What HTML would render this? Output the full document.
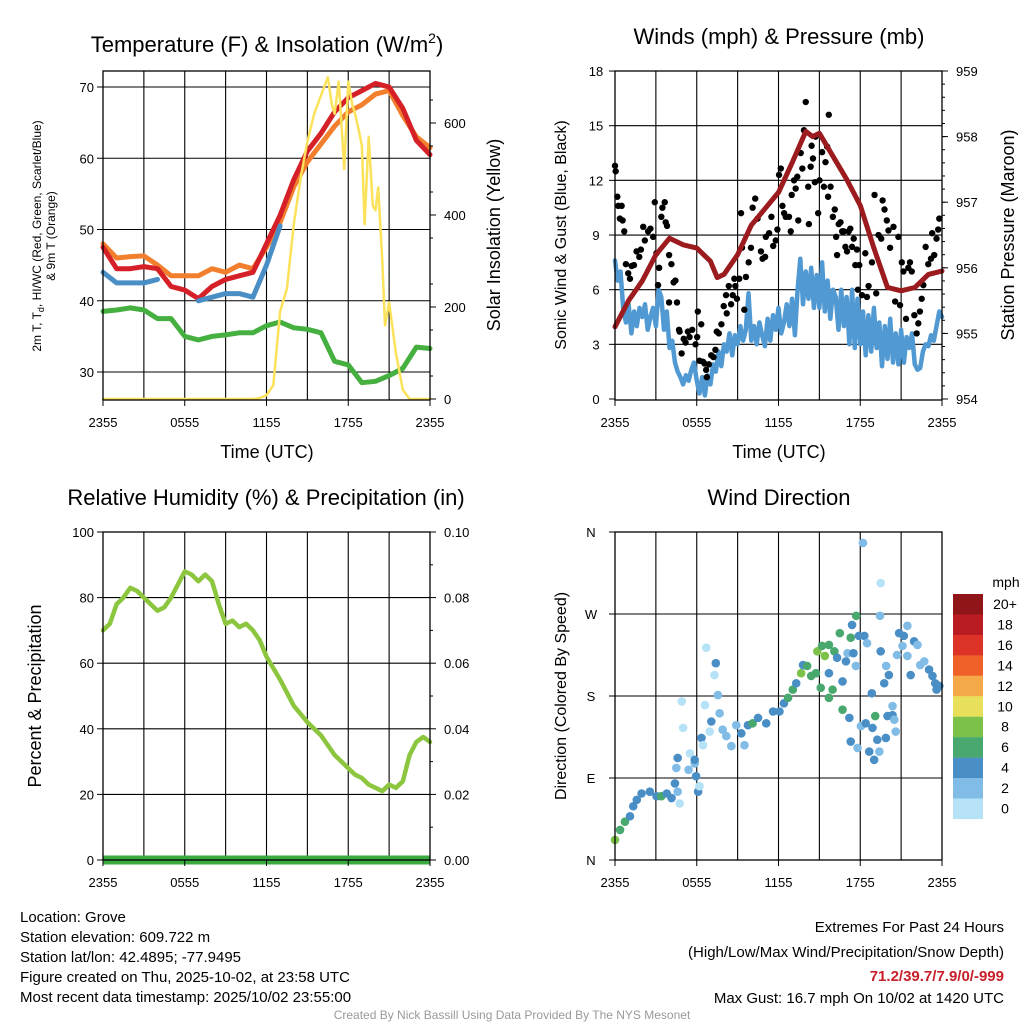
<!DOCTYPE html>
<html><head><meta charset="utf-8"><style>
body{margin:0;background:#fff;width:1024px;height:1024px;overflow:hidden}
svg{font-family:"Liberation Sans",sans-serif}
</style></head><body>
<svg id="s" width="1024" height="1024" viewBox="0 0 1024 1024" xmlns="http://www.w3.org/2000/svg">
<g id="bg"></g>
</svg>
<script>
const hrs = [0,1,2,3,4,5,6,7,8,9,10,11,12,13,14,15,16,17,18,19,20,21,22,23,24];
const tempRed = [47.5,44.5,44.5,44.8,44.5,42,41.5,40.3,42,43,43.5,44,48,52,57,61,63.5,66.5,68.5,69.5,70.5,70,67,62.5,60.5];
const tempOrange = [48,46,46.2,46.3,45,43.5,43.5,43.5,44.5,44,45,44.5,47.5,51,56,59.5,62,64.5,66.5,67.5,69,69.5,66,63,61.5];
const tempBlue = [44,42.5,42.5,42.5,43,null,null,40,40.5,41,41,40.5,45,50.5,null,null,null,null,null,null,null,null,null,null,null];
const dewGreen = [38.5,38.7,39,38.7,37.5,37.5,35,34.5,35,35.2,35.5,35.5,36.5,37,36.2,36,35.5,31.5,31,28.5,28.7,29.5,30.5,33.5,33.3];
const solarTimes = [0,11,11.5,12,12.5,13,13.5,14,14.5,15,15.5,16,16.5,16.8,17,17.3,17.5,17.7,18,18.3,18.5,18.8,19,19.2,19.5,19.8,20,20.2,20.5,20.7,21,21.5,22,22.5,24];
const solarVals = [0,0,2,8,30,190,240,380,480,560,620,660,700,640,620,690,600,500,690,640,620,580,550,380,570,420,410,460,300,160,210,100,20,0,0];
const pressTimes = [0,1,2,3,4,5,6,7,7.5,8,9,10,11,12,13,14,14.5,15,16,17,18,19,20,21,22,23,24];
const pressVals = [955.1,955.5,955.8,956.2,956.45,956.35,956.3,956.1,955.85,955.9,956.2,956.65,956.9,957.15,957.6,958.08,958.0,958.05,957.7,957.35,956.95,956.3,955.7,955.65,955.7,955.9,955.95];
const windVals = [7.6,6.5,7.0,5.0,4.2,5.2,3.6,4.8,4.0,5.0,4.5,5.2,3.8,4.5,5.0,4.0,6.0,5.6,3.8,4.8,2.8,3.2,2.0,1.5,1.2,0.8,1.3,1.0,1.6,2.0,1.0,0.3,1.2,0.2,1.3,0.8,1.9,1.5,2.6,1.8,3.0,2.6,3.6,2.4,3.5,3.0,4.0,3.2,3.8,5.8,3.2,4.0,3.0,4.2,3.5,2.9,4.4,3.2,4.6,3.8,5.0,3.6,4.2,5.2,4.0,5.5,3.5,6.0,7.7,5.2,7.0,5.5,7.2,5.0,6.8,5.0,7.5,4.8,6.5,4.4,6.0,5.6,3.8,6.0,4.0,5.6,3.0,6.0,2.8,5.5,3.0,4.8,2.4,4.6,2.6,5.0,2.8,4.2,1.8,4.0,2.2,4.4,2.0,3.6,1.9,3.8,2.0,3.4,2.8,3.6,1.9,1.6,1.7,2.6,3.0,2.9,3.5,3.2,4.0,4.8,4.5];
const gustTimes = [0,0.05,0.17,0.24,0.49,0.36,0.56,0.68,0.8,0.97,1.1,1.22,1.39,1.58,1.78,1.9,2.07,2.19,2.43,2.6,2.8,2.92,3.04,3.16,3.24,3.4,3.48,3.65,3.72,3.82,3.97,3.97,4.14,4.3,4.43,4.55,4.7,4.74,4.89,5.04,5.18,5.35,5.47,5.67,5.91,6.03,6.08,6.2,6.33,6.45,6.57,6.69,6.74,6.89,7.06,7.23,7.37,7.47,7.62,7.81,7.98,8.15,8.2,8.35,8.52,8.64,8.76,8.83,8.95,9.12,9.25,9.32,9.49,9.61,9.81,9.98,10.1,10.29,10.46,10.71,10.83,11.02,11.07,11.31,11.48,11.61,11.8,11.92,12.04,12.17,12.29,12.41,12.53,12.77,12.9,12.97,13.14,13.26,13.38,13.45,13.63,13.75,13.87,14.0,14.18,14.23,14.36,14.43,14.53,14.67,14.72,14.91,15.01,15.2,15.33,15.45,15.57,15.69,15.64,15.82,15.99,16.13,16.23,16.3,16.42,16.55,16.67,16.79,16.91,17.03,17.15,17.27,17.4,17.52,17.64,17.76,17.83,17.93,18.13,18.37,18.49,18.61,18.86,19.05,19.17,19.34,19.54,19.64,19.78,19.95,20.07,20.19,20.44,20.56,20.8,20.92,21.05,21.17,21.36,21.53,21.65,21.78,21.97,22.14,22.26,22.38,22.51,22.63,22.8,22.99,23.19,23.28,23.43,23.6,23.72,23.8];
const gustVals = [12.8,12.5,11.1,10.6,10.6,9.9,9.8,9.2,7.4,6.9,6.6,7.3,7.35,8.1,7.8,8.2,9.45,8.7,9.2,9.35,8.9,10.8,8.0,6.25,7.2,10.0,10.5,10.8,9.7,9.5,7.9,5.3,7.4,6.4,6.5,5.3,3.8,3.7,2.5,3.3,3.1,3.7,3.4,3.8,3.0,3.4,4.8,2.1,4.1,2.05,1.95,1.6,1.2,1.9,2.4,2.3,2.7,3.7,3.6,4.1,5.1,5.7,4.7,6.2,5.2,5.7,6.6,6.2,5.5,6.6,10.2,8.3,4.9,6.7,7.5,8.3,10.5,11.0,9.9,8.1,7.7,7.8,8.9,9.1,10.0,8.4,8.7,9.3,12.3,12.65,10.6,10.2,10.0,10.0,9.2,11.2,12.0,11.55,12.2,9.8,13.5,12.65,14.75,16.3,11.65,9.6,12.75,13.9,13.2,11.9,14.4,10.2,12.0,13.55,11.65,13.0,13.85,15.6,11.1,11.65,10.0,10.4,8.9,7.9,9.6,9.7,9.2,9.2,8.35,8.1,9.2,9.35,8.35,8.8,7.35,8.2,6.0,7.35,5.7,8.0,5.6,6.2,7.5,11.2,5.8,9.0,8.8,10.9,10.4,9.8,9.25,8.3,9.45,5.35,8.9,5.15,7.5,7.0,4.4,7.2,7.5,7.0,4.6,3.6,4.15,4.8,5.5,6.25,8.35,7.4,7.7,9.1,7.9,8.8,9.3,9.9];
const rhTimes = [0,0.5,1,1.5,2,2.5,3,3.5,4,4.5,5,5.5,6,6.5,7,7.5,8,8.5,9,9.5,10,10.5,11,11.5,12,13,14,15,16,17,18,18.5,19,19.5,20,20.5,21,21.5,22,22.5,23,23.5,24];
const rhVals = [70,72,78,80,83,82,80,78,76,77,80,84,88,87,85,87,85,78,72,73,71,72,70,67,62,55,47,42,38,32,28,26,25,23,22,21,23,22,24,32,36,37.5,36];
const precipVals = [0,0];
const dirTimes = [0,0.37,0.73,1.1,1.34,1.6,1.95,2.56,3.05,3.4,3.8,4.15,4.4,4.75,4.6,4.5,4.6,5,4.9,5.4,5.5,5.85,5.95,6.1,6.2,5.85,6.35,6.46,6.6,6.7,7.4,7.3,7.55,7.07,6.95,7.68,7.9,8.17,8.54,8.9,9.27,9.5,9.76,10.1,10.5,11.1,11.6,12.07,12.4,12.7,13.05,13.3,13.66,13.8,14.1,14.4,14.75,15.1,14.85,15.2,15.7,15.4,15.7,15.97,15.7,16.1,16.3,16.5,16.7,16.95,17.07,16.7,17.2,17.3,17.4,17.5,17.68,17.7,17.9,18.05,17.3,17.8,18.2,18.4,18.66,18.3,18.5,18.85,18.9,19.1,19.02,19.25,19.4,19.5,19.45,19.5,19.76,19.9,20,20.1,20.37,20.37,20.5,19.88,20.6,20.7,20.85,21.1,21.2,21.46,21.46,21.7,21.95,22.2,22.4,22.7,23.05,23.3,23.5,23.8,23.6];
const dirVals = [22,33,42,48,59,66,73,75,70,70,73,68,84,62,75,101,112,145,174,99,117,106,92,75,81,110,134,126,170,233,216,203,181,152,141,161,143,136,125,148,139,126,148,150,156,150,163,163,172,178,187,194,205,214,213,202,205,189,229,235,236,224,205,187,178,229,222,249,196,218,227,165,156,244,258,227,213,268,246,147,130,123,348,150,119,246,238,183,145,158,110,132,119,304,268,229,194,213,158,203,169,159,154,134,141,225,249,235,246,257,224,203,240,236,214,218,209,202,194,191,187];
const dirSpeed = [9,7,7,5,5,5,5,5,5,7,5,5,5,1,3,3,5,1,1,3,1,3,5,5,1,5,5,1,1,1,5,1,3,5,1,3,3,3,3,3,5,3,5,7,5,5,5,5,5,7,7,5,9,5,7,7,7,7,9,7,7,9,5,7,7,7,5,7,5,5,3,7,5,7,5,5,3,7,5,3,5,3,3,5,5,5,3,5,5,7,5,5,3,1,3,5,5,3,5,5,3,5,3,5,3,3,5,3,5,3,3,5,5,3,3,3,5,5,5,5,5];
const cbLabels = ["20+","18","16","14","12","10","8","6","4","2","0"];
const cbColors = ["#8f1519","#b81b22","#dc3228","#ef6129","#f5a847","#e8e05a","#7cc24a","#48a86e","#4a8ec6","#80bce6","#b5e2f7"];
const xTickHours = [0,6,12,18,24];
const xTickLabels = ["2355","0555","1155","1755","2355"];

const NS="http://www.w3.org/2000/svg";
const svg=document.getElementById('s');
function mk(tag,attrs,parent){const e=document.createElementNS(NS,tag);for(const k in attrs)e.setAttribute(k,attrs[k]);(parent||svg).appendChild(e);return e;}
function txt(x,y,s,size,anchor,parent,extra){const e=mk('text',Object.assign({x:x,y:y,'font-size':size,'text-anchor':anchor||'middle',fill:'#000'},extra||{}),parent);e.textContent=s;return e;}
function colorFor(sp){const i=Math.min(10,Math.floor(sp/2));return cbColors[10-i];}

function panel(L,R,T,B,name){
  const g=mk('g',{});
  
  
  return {g:g,L:L,R:R,T:T,B:B,x:h=>L+h*(R-L)/24};
}
function grid(p,ys){
  for(let h=3;h<24;h+=3){const l=mk('line',{x1:p.x(h),x2:p.x(h),y1:p.T,y2:p.B,stroke:'#000','stroke-width':1.1},p.g);}
  ys.forEach(y=>{const l=mk('line',{x1:p.L,x2:p.R,y1:y,y2:y,stroke:'#000','stroke-width':1.1},p.g);});
}
function frame(p){
  const r=mk('rect',{x:p.L,y:p.T,width:p.R-p.L,height:p.B-p.T,fill:'none',stroke:'#000','stroke-width':1.3},p.g);
  
  xTickHours.forEach((h,i)=>{
    mk('line',{x1:p.x(h),x2:p.x(h),y1:p.B,y2:p.B+6,stroke:'#000'},p.g);
    const t=txt(p.x(h),p.B+27,xTickLabels[i],13,'middle',p.g);
    
  });
}
function path(p,xs,ys,fx,fy,attrs,name){
  let d='',pen=false;
  for(let i=0;i<xs.length;i++){if(ys[i]==null){pen=false;continue;}d+=(pen?'L':'M')+fx(xs[i]).toFixed(1)+','+fy(ys[i]).toFixed(1);pen=true;}
  const e=mk('path',Object.assign({d:d,fill:'none','stroke-linejoin':'round','stroke-linecap':'round'},attrs),p.g);
  return e;
}

// ---- Panel 1: temperature
const p1=panel(103,430,71,400,'temperature-panel');
const yT=t=>372-(t-30)*7.125, yS=s=>399-s*0.46;
grid(p1,[30,40,50,60,70].map(yT));
path(p1,hrs,tempOrange,p1.x,yT,{stroke:'#f27f2d','stroke-width':5},'line-9m-temp-orange');
path(p1,hrs,tempRed,p1.x,yT,{stroke:'#d62027','stroke-width':5},'line-2m-temp-red');
path(p1,hrs,tempBlue,p1.x,yT,{stroke:'#4a8ec6','stroke-width':5},'line-windchill-blue');
path(p1,hrs,dewGreen,p1.x,yT,{stroke:'#45b040','stroke-width':5},'line-dewpoint-green');
path(p1,solarTimes,solarVals,p1.x,yS,{stroke:'#fbe25a','stroke-width':2.5},'line-solar-yellow');
frame(p1);
[30,40,50,60,70].forEach(v=>{mk('line',{x1:p1.L-6,x2:p1.L,y1:yT(v),y2:yT(v),stroke:'#000'},p1.g);const t=txt(p1.L-9,yT(v)+5,String(v),13,'end',p1.g);});
[0,200,400,600].forEach(v=>{mk('line',{x1:p1.R,x2:p1.R+6,y1:yS(v),y2:yS(v),stroke:'#000'},p1.g);const t=txt(p1.R+14,yS(v)+5,String(v),13,'start',p1.g);});
for(let v=50;v<700;v+=100)mk('line',{x1:p1.R,x2:p1.R+3,y1:yS(v),y2:yS(v),stroke:'#000'},p1.g);

// ---- Panel 2: winds
const p2=panel(615,942,71,400,'winds-panel');
const yW=w=>399-w*18.22, yP=p=>399-(p-954)*65.6;
grid(p2,[3,6,9,12,15].map(yW));
path(p2,windVals.map((v,i)=>i*0.2),windVals,p2.x,yW,{stroke:'#5199d2','stroke-width':4.5},'line-sonic-wind-blue');
gustTimes.forEach((h,i)=>{const c=mk('circle',{cx:p2.x(h),cy:yW(gustVals[i]),r:3.2,fill:'#000'},p2.g);});
path(p2,pressTimes,pressVals,p2.x,yP,{stroke:'#9b1b1e','stroke-width':5},'line-pressure-maroon');
frame(p2);
[0,3,6,9,12,15,18].forEach(v=>{mk('line',{x1:p2.L-6,x2:p2.L,y1:yW(v),y2:yW(v),stroke:'#000'},p2.g);const t=txt(p2.L-19,yW(v)+5,String(v),13,'middle',p2.g);});
[954,955,956,957,958,959].forEach(v=>{mk('line',{x1:p2.R,x2:p2.R+6,y1:yP(v),y2:yP(v),stroke:'#000'},p2.g);const t=txt(p2.R+14,yP(v)+5,String(v),13,'start',p2.g);});
for(let v=954.2;v<959;v+=0.2)mk('line',{x1:p2.R,x2:p2.R+3,y1:yP(v),y2:yP(v),stroke:'#000'},p2.g);

// ---- Panel 3: RH
const p3=panel(103,430,532,860,'humidity-panel');
const yR=r=>860-r*3.28;
grid(p3,[20,40,60,80].map(yR));
path(p3,rhTimes,rhVals,p3.x,yR,{stroke:'#8cc63f','stroke-width':4.5},'line-relative-humidity');
path(p3,[0,24],precipVals,p3.x,v=>860-v*3280,{stroke:'#3aa93f','stroke-width':9,'stroke-linecap':'butt'},'line-precipitation');
frame(p3);
[0,20,40,60,80,100].forEach(v=>{mk('line',{x1:p3.L-6,x2:p3.L,y1:yR(v),y2:yR(v),stroke:'#000'},p3.g);const t=txt(p3.L-9,yR(v)+5,String(v),13,'end',p3.g);});
["0.00","0.02","0.04","0.06","0.08","0.10"].forEach((s,i)=>{const y=yR(i*20);mk('line',{x1:p3.R,x2:p3.R+6,y1:y,y2:y,stroke:'#000'},p3.g);const t=txt(p3.R+14,y+5,s,13,'start',p3.g);});
for(let v=10;v<100;v+=20)mk('line',{x1:p3.R,x2:p3.R+3,y1:yR(v),y2:yR(v),stroke:'#000'},p3.g);

// ---- Panel 4: wind direction
const p4=panel(615,942,532,860,'wind-direction-panel');
const yD=d=>860-d*328/360;
grid(p4,[90,180,270].map(yD));
dirTimes.forEach((h,i)=>{const c=mk('circle',{cx:p4.x(h),cy:yD(dirVals[i]),r:4.3,fill:colorFor(dirSpeed[i])},p4.g);});
frame(p4);
["N","E","S","W","N"].forEach((s,i)=>{const y=yD(i*90);mk('line',{x1:p4.L-6,x2:p4.L,y1:y,y2:y,stroke:'#000'},p4.g);const t=txt(p4.L-24,y+5,s,13,'middle',p4.g);});
const cb=mk('g',{});
cbColors.forEach((c,i)=>{const r=mk('rect',{x:953,y:594+i*20.45,width:30,height:20.6,fill:c},cb);
 const t=txt(1005,594+i*20.45+15,cbLabels[i],14,'middle',cb);});
</script>
<div style="position:absolute;left:0;top:0;width:1024px;height:1024px;pointer-events:none">
<svg width="1024" height="1024" style="position:absolute;left:0;top:0;font-family:'Liberation Sans',sans-serif">
<text x="267" y="52" font-size="22" text-anchor="middle">Temperature (F) &amp; Insolation (W/m<tspan dy="-9" font-size="14">2</tspan><tspan dy="9">)</tspan></text>
<text x="779" y="44" font-size="22" text-anchor="middle">Winds (mph) &amp; Pressure (mb)</text>
<text x="266" y="505" font-size="22" text-anchor="middle">Relative Humidity (%) &amp; Precipitation (in)</text>
<text x="779" y="505" font-size="22" text-anchor="middle">Wind Direction</text>
<text x="267" y="458" font-size="18" text-anchor="middle">Time (UTC)</text>
<text x="779" y="458" font-size="18" text-anchor="middle">Time (UTC)</text>
<text transform="translate(41,236) rotate(-90)" font-size="12" text-anchor="middle">2m T, T<tspan font-size="9" dy="3">d</tspan><tspan dy="-3">, HI/WC (Red, Green, Scarlet/Blue)</tspan></text>
<text transform="translate(55,236) rotate(-90)" font-size="12" text-anchor="middle">&amp; 9m T (Orange)</text>
<text transform="translate(500,235) rotate(-90)" font-size="18" text-anchor="middle">Solar Insolation (Yellow)</text>
<text transform="translate(566,235) rotate(-90)" font-size="16" text-anchor="middle">Sonic Wind &amp; Gust (Blue, Black)</text>
<text transform="translate(1014,235) rotate(-90)" font-size="18" text-anchor="middle">Station Pressure (Maroon)</text>
<text transform="translate(41,696) rotate(-90)" font-size="18" text-anchor="middle">Percent &amp; Precipitation</text>
<text transform="translate(566,696) rotate(-90)" font-size="16" text-anchor="middle">Direction (Colored By Speed)</text>
<text x="1006" y="587" font-size="14" text-anchor="middle">mph</text>
<g font-size="15">
<text x="20" y="922">Location: Grove</text>
<text x="20" y="942">Station elevation: 609.722 m</text>
<text x="20" y="962">Station lat/lon: 42.4895; -77.9495</text>
<text x="20" y="982">Figure created on Thu, 2025-10-02, at 23:58 UTC</text>
<text x="20" y="1002">Most recent data timestamp: 2025/10/02 23:55:00</text>
</g>
<g font-size="15" text-anchor="end">
<text x="1004" y="932">Extremes For Past 24 Hours</text>
<text x="1004" y="957">(High/Low/Max Wind/Precipitation/Snow Depth)</text>
<text x="1004" y="981" fill="#c8202a" font-weight="bold">71.2/39.7/7.9/0/-999</text>
<text x="1004" y="1003">Max Gust: 16.7 mph On 10/02 at 1420 UTC</text>
</g>
<text x="512" y="1019" font-size="12" fill="#999" text-anchor="middle">Created By Nick Bassill Using Data Provided By The NYS Mesonet</text>
</svg></div>
</body></html>
